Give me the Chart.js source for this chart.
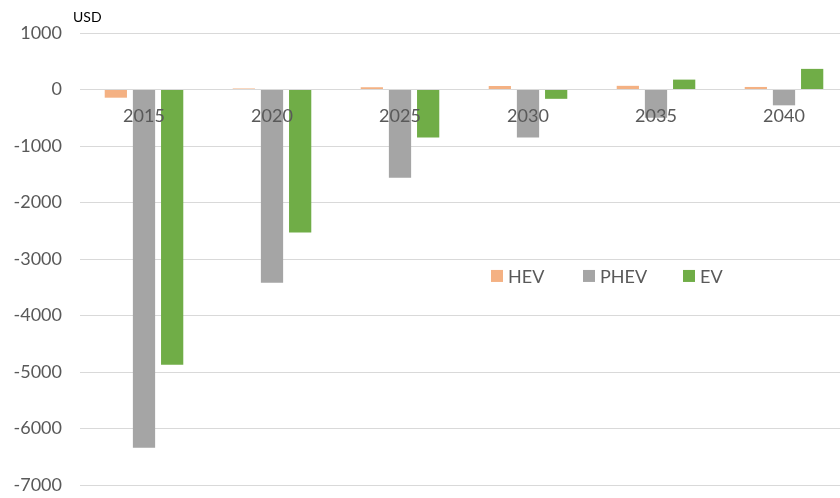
<!DOCTYPE html>
<html>
<head>
<meta charset="utf-8">
<script src="https://cdn.jsdelivr.net/npm/chart.js@4"></script>
<style>
html,body{margin:0;padding:0;background:#fff;overflow:hidden;width:840px;height:498px;}
#wrap{width:848px;height:498px;}
canvas{display:block;}
</style>
</head>
<body>
<div id="wrap"><canvas id="c" width="848" height="498" style="width:848px;height:498px"></canvas></div>
<script>
const categories = ['2015', '2020', '2025', '2030', '2035', '2040'];
const hevValues  = [-145, 18, 40, 62, 65, 45];
const phevValues = [-6340, -3420, -1560, -850, -500, -280];
const evValues   = [-4870, -2530, -850, -165, 175, 365];
const yTicks = [1000, 0, -1000, -2000, -3000, -4000, -5000, -6000, -7000];
const unitLabel = 'USD';

const FONT = 'Lato, "Open Sans", sans-serif';

const overlay = {
  id: 'overlay',
  afterDatasetsDraw(chart) {
    const ctx = chart.ctx;
    const xs = chart.scales.x;
    const ys = chart.scales.y;
    ctx.save();
    ctx.fillStyle = '#595959';
    ctx.font = '18px ' + FONT;
    ctx.textAlign = 'center';
    ctx.textBaseline = 'middle';
    const y0 = ys.getPixelForValue(0);
    chart.data.labels.forEach((lab, i) => {
      ctx.fillText(lab, xs.getPixelForValue(i), y0 + 27);
    });
    ctx.fillStyle = '#000';
    ctx.font = '14px ' + FONT;
    ctx.textAlign = 'left';
    ctx.fillText(unitLabel, 73, 17);
    const ly = ys.getPixelForValue(-3300);
    const lx = [491, 583, 683];
    ctx.font = '18px ' + FONT;
    chart.data.datasets.forEach((ds, i) => {
      ctx.fillStyle = ds.backgroundColor;
      ctx.fillRect(lx[i], ly - 6, 12, 12);
      ctx.fillStyle = '#595959';
      ctx.fillText(ds.label, lx[i] + 17, ly + 1);
    });
    ctx.restore();
  }
};

new Chart(document.getElementById('c'), {
  type: 'bar',
  data: {
    labels: categories,
    datasets: [
      { label: 'HEV',  data: hevValues,  backgroundColor: '#F4B183' },
      { label: 'PHEV', data: phevValues, backgroundColor: '#A5A5A5' },
      { label: 'EV',   data: evValues,   backgroundColor: '#70AD47' }
    ]
  },
  options: {
    responsive: false,
    maintainAspectRatio: false,
    animation: false,
    devicePixelRatio: 1,
    layout: { padding: { left: 0, right: 0, top: 33, bottom: 13 } },
    datasets: { bar: { categoryPercentage: 0.66, barPercentage: 0.79 } },
    plugins: { legend: { display: false }, tooltip: { enabled: false } },
    scales: {
      x: {
        display: false
      },
      y: {
        min: -7000, max: 1000,
        afterBuildTicks(scale) { scale.ticks = yTicks.map(v => ({ value: v })); },
        afterFit(scale) { scale.width = 80; scale.paddingTop = 0; scale.paddingBottom = 0; },
        grid: { color: '#d9d9d9', lineWidth: 1, drawTicks: false },
        border: { display: false },
        ticks: {
          color: '#595959', font: { family: FONT, size: 18 }, padding: 18,
          callback: (v) => String(v)
        }
      }
    }
  },
  plugins: [overlay]
});
</script>
</body>
</html>
